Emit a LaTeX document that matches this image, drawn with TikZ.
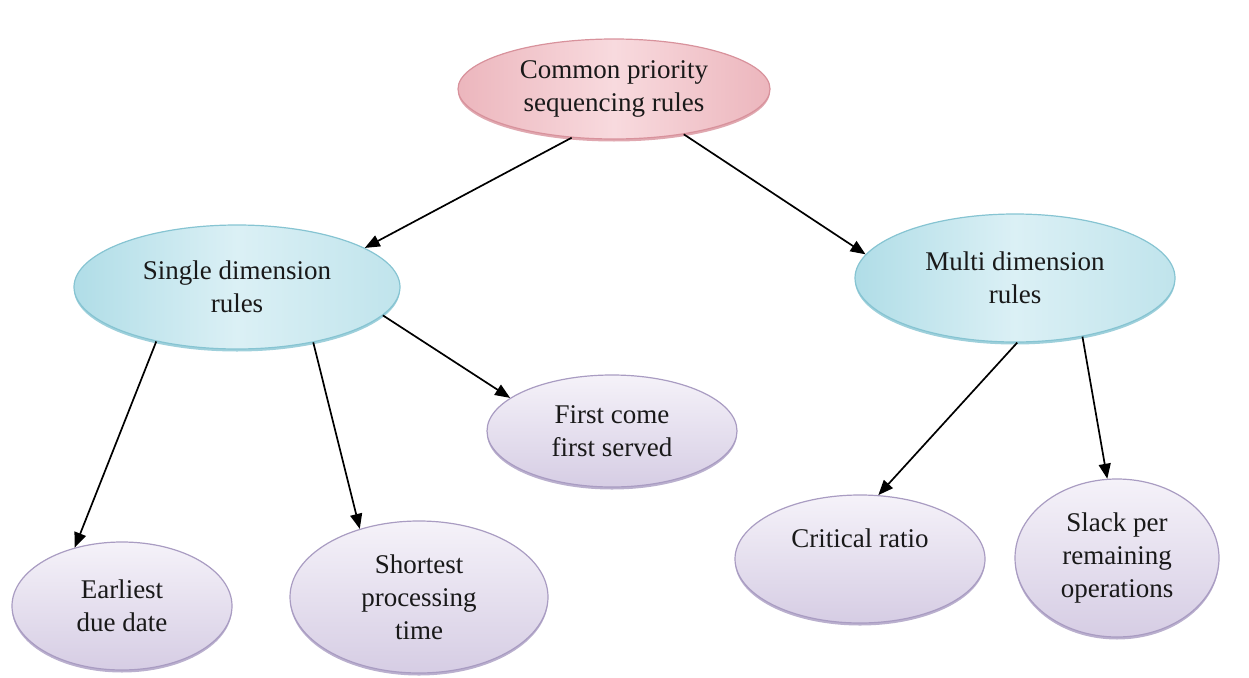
\documentclass[tikz,border=0pt]{standalone}
\usepackage{fontspec}
\setmainfont{Liberation Serif}
\usetikzlibrary{arrows.meta,shapes.geometric,shadows}
\definecolor{pinkB}{HTML}{D8929C}
\definecolor{pinkE}{HTML}{ECB6BD}
\definecolor{pinkM}{HTML}{F8DADE}
\definecolor{blueB}{HTML}{86C4D2}
\definecolor{blueE}{HTML}{B0DDE7}
\definecolor{blueM}{HTML}{DBF0F5}
\definecolor{lavB}{HTML}{A99CC2}
\definecolor{lavT}{HTML}{F5F2F9}
\definecolor{lavD}{HTML}{D6CDE4}
\begin{document}
\begin{tikzpicture}[x=1pt,y=-1pt,
  txt/.style={align=center, font=\fontsize{27}{33}\selectfont, text=black!90, inner sep=0pt},
  base/.style={ellipse, txt, line width=1.2pt},
  pinkbox/.style={base, draw=pinkB, left color=pinkE, right color=pinkE, middle color=pinkM,
    drop shadow={shadow xshift=0pt, shadow yshift=-2.5pt, fill=pinkB, opacity=0.8}},
  bluebox/.style={base, draw=blueB, left color=blueE, right color=blueE!80, middle color=blueM,
    drop shadow={shadow xshift=0pt, shadow yshift=-2.5pt, fill=blueB, opacity=0.8}},
  lavbox/.style={base, draw=lavB, top color=lavT, bottom color=lavD,
    drop shadow={shadow xshift=0pt, shadow yshift=-2.5pt, fill=lavB, opacity=0.8}},
  conn/.style={line width=1.7pt, -{Triangle[length=15pt,width=12pt]}}
]
\useasboundingbox (0,0) rectangle (1249,677);

\node[pinkbox, minimum width=312pt, minimum height=100pt] (top) at (614,89) {Common priority\\sequencing rules};
\node[bluebox, minimum width=326pt, minimum height=124pt] (single) at (237,287) {Single dimension\\rules};
\node[bluebox, minimum width=320pt, minimum height=128pt] (multi) at (1015,278) {Multi dimension\\rules};
\node[lavbox, minimum width=250pt, minimum height=112pt] (fcfs) at (612,431) {First come\\first served};
\node[lavbox, minimum width=220pt, minimum height=128pt] (edd) at (122,606) {Earliest\\due date};
\node[lavbox, minimum width=258pt, minimum height=152pt] (spt) at (419,597) {Shortest\\processing\\time};
\node[lavbox, minimum width=250pt, minimum height=128pt] (cr) at (860,559) {};
\node[txt] (crtext) at ([yshift=21pt]cr.center) {Critical ratio};
\node[lavbox, minimum width=204pt, minimum height=158pt] (slack) at (1117,558) {Slack per\\remaining\\operations};

\draw[conn] (top.229) -- (single.17);
\draw[conn] (top.327) -- (multi.171);
\draw[conn] (single.214) -- (edd.129);
\draw[conn] (single.324) -- (spt.131);
\draw[conn] (single.349) -- (fcfs.162);
\draw[conn] (multi.272) -- (cr.74);
\draw[conn] (multi.319) -- (slack.97);
\end{tikzpicture}
\end{document}
